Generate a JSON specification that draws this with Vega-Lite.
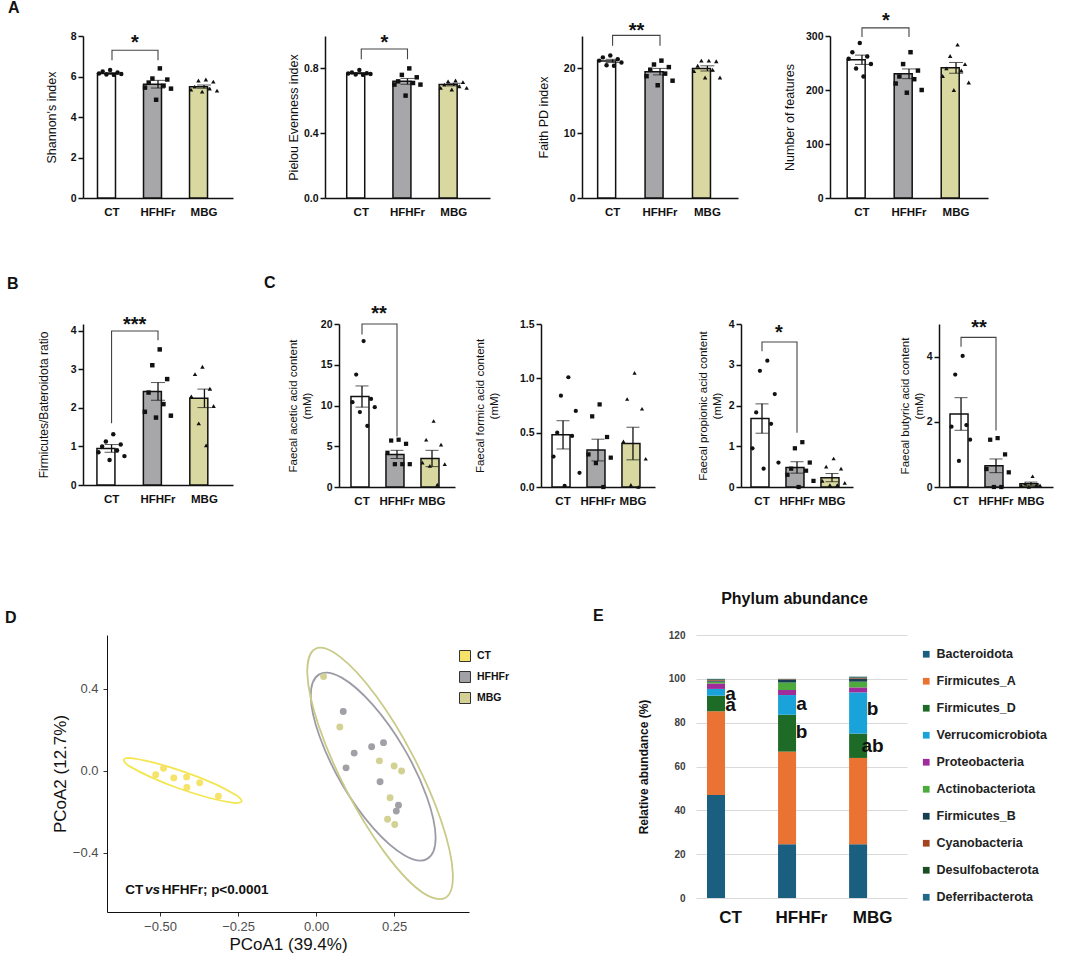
{
"$schema": "https://vega.github.io/schema/vega-lite/v6.json",
"padding": {"left":5,"top":0,"right":5,"bottom":4},
"config": {
 "view": {"stroke": null},
 "font": "Liberation Sans",
 "axis": {"domainColor":"#111","domainWidth":1.5,"tickColor":"#111","tickWidth":1.5,"tickSize":5,"labelFontWeight":"bold","labelFontSize":10.5,"labelColor":"#111","titleFontWeight":"normal","titleFontSize":12.5,"titleColor":"#111","titlePadding":8,"grid":false,"labelOverlap":false},
 "axisX": {"ticks":false,"labelFontSize":11.5,"labelPadding":8,"labelAngle":0},
 "title": {"fontSize":16,"fontWeight":"bold","anchor":"start","frame":"group","offset":0,"color":"#111"}
},
"datasets": {
 "bars": [
  {"p":"A1","g":"CT","m":6.15,"e":0.04},{"p":"A1","g":"HFHFr","m":5.62,"e":0.19},{"p":"A1","g":"MBG","m":5.5,"e":0.08},
  {"p":"A2","g":"CT","m":0.77,"e":0.004},{"p":"A2","g":"HFHFr","m":0.72,"e":0.018},{"p":"A2","g":"MBG","m":0.70,"e":0.008},
  {"p":"A3","g":"CT","m":21.15,"e":0.25},{"p":"A3","g":"HFHFr","m":19.5,"e":0.5},{"p":"A3","g":"MBG","m":20.0,"e":0.4},
  {"p":"A4","g":"CT","m":256,"e":8.6},{"p":"A4","g":"HFHFr","m":230,"e":9},{"p":"A4","g":"MBG","m":241,"e":10},
  {"p":"B","g":"CT","m":0.95,"e":0.1},{"p":"B","g":"HFHFr","m":2.43,"e":0.23},{"p":"B","g":"MBG","m":2.25,"e":0.24},
  {"p":"C1","g":"CT","m":11.1,"e":1.3},{"p":"C1","g":"HFHFr","m":4.0,"e":0.5},{"p":"C1","g":"MBG","m":3.5,"e":1.0},
  {"p":"C2","g":"CT","m":0.48,"e":0.13},{"p":"C2","g":"HFHFr","m":0.34,"e":0.1},{"p":"C2","g":"MBG","m":0.40,"e":0.15},
  {"p":"C3","g":"CT","m":1.68,"e":0.36},{"p":"C3","g":"HFHFr","m":0.48,"e":0.14},{"p":"C3","g":"MBG","m":0.23,"e":0.1},
  {"p":"C4","g":"CT","m":2.24,"e":0.5},{"p":"C4","g":"HFHFr","m":0.65,"e":0.21},{"p":"C4","g":"MBG","m":0.1,"e":0.05}
 ],
 "pts": [
  {"p":"A1","g":"CT","r":4,"v":6.32},{"p":"A1","g":"CT","r":2,"v":6.25},{"p":"A1","g":"CT","r":6,"v":6.2},{"p":"A1","g":"CT","r":1,"v":6.15},{"p":"A1","g":"CT","r":7,"v":6.12},{"p":"A1","g":"CT","r":3,"v":6.1},{"p":"A1","g":"CT","r":5,"v":6.08},
  {"p":"A1","g":"HFHFr","r":5,"v":6.4},{"p":"A1","g":"HFHFr","r":3,"v":5.9},{"p":"A1","g":"HFHFr","r":7,"v":5.85},{"p":"A1","g":"HFHFr","r":2,"v":5.7},{"p":"A1","g":"HFHFr","r":6,"v":5.55},{"p":"A1","g":"HFHFr","r":1,"v":5.45},{"p":"A1","g":"HFHFr","r":8,"v":5.4},{"p":"A1","g":"HFHFr","r":4,"v":4.85},
  {"p":"A1","g":"MBG","r":5,"v":5.85},{"p":"A1","g":"MBG","r":3,"v":5.8},{"p":"A1","g":"MBG","r":7,"v":5.75},{"p":"A1","g":"MBG","r":2,"v":5.5},{"p":"A1","g":"MBG","r":6,"v":5.4},{"p":"A1","g":"MBG","r":1,"v":5.35},{"p":"A1","g":"MBG","r":8,"v":5.3},{"p":"A1","g":"MBG","r":4,"v":5.25},
  {"p":"A2","g":"CT","r":4,"v":0.79},{"p":"A2","g":"CT","r":2,"v":0.775},{"p":"A2","g":"CT","r":6,"v":0.77},{"p":"A2","g":"CT","r":1,"v":0.768},{"p":"A2","g":"CT","r":7,"v":0.765},{"p":"A2","g":"CT","r":3,"v":0.762},{"p":"A2","g":"CT","r":5,"v":0.76},
  {"p":"A2","g":"HFHFr","r":5,"v":0.8},{"p":"A2","g":"HFHFr","r":3,"v":0.76},{"p":"A2","g":"HFHFr","r":7,"v":0.745},{"p":"A2","g":"HFHFr","r":2,"v":0.72},{"p":"A2","g":"HFHFr","r":6,"v":0.71},{"p":"A2","g":"HFHFr","r":1,"v":0.70},{"p":"A2","g":"HFHFr","r":8,"v":0.70},{"p":"A2","g":"HFHFr","r":4,"v":0.632},
  {"p":"A2","g":"MBG","r":5,"v":0.725},{"p":"A2","g":"MBG","r":3,"v":0.72},{"p":"A2","g":"MBG","r":7,"v":0.715},{"p":"A2","g":"MBG","r":2,"v":0.70},{"p":"A2","g":"MBG","r":6,"v":0.69},{"p":"A2","g":"MBG","r":1,"v":0.68},{"p":"A2","g":"MBG","r":8,"v":0.68},{"p":"A2","g":"MBG","r":4,"v":0.67},
  {"p":"A3","g":"CT","r":4,"v":22.0},{"p":"A3","g":"CT","r":2,"v":21.7},{"p":"A3","g":"CT","r":6,"v":21.4},{"p":"A3","g":"CT","r":1,"v":21.2},{"p":"A3","g":"CT","r":7,"v":20.9},{"p":"A3","g":"CT","r":3,"v":20.5},{"p":"A3","g":"CT","r":5,"v":20.4},
  {"p":"A3","g":"HFHFr","r":5,"v":21.2},{"p":"A3","g":"HFHFr","r":3,"v":20.6},{"p":"A3","g":"HFHFr","r":7,"v":20.2},{"p":"A3","g":"HFHFr","r":2,"v":19.8},{"p":"A3","g":"HFHFr","r":6,"v":19.2},{"p":"A3","g":"HFHFr","r":1,"v":18.8},{"p":"A3","g":"HFHFr","r":8,"v":18.1},{"p":"A3","g":"HFHFr","r":4,"v":17.4},
  {"p":"A3","g":"MBG","r":5,"v":21.2},{"p":"A3","g":"MBG","r":3,"v":21.2},{"p":"A3","g":"MBG","r":7,"v":21.1},{"p":"A3","g":"MBG","r":2,"v":20.4},{"p":"A3","g":"MBG","r":6,"v":19.8},{"p":"A3","g":"MBG","r":1,"v":19.6},{"p":"A3","g":"MBG","r":8,"v":18.6},{"p":"A3","g":"MBG","r":4,"v":18.6},
  {"p":"A4","g":"CT","r":4,"v":287},{"p":"A4","g":"CT","r":2,"v":270},{"p":"A4","g":"CT","r":6,"v":262},{"p":"A4","g":"CT","r":1,"v":258},{"p":"A4","g":"CT","r":7,"v":248},{"p":"A4","g":"CT","r":3,"v":240},{"p":"A4","g":"CT","r":5,"v":225},
  {"p":"A4","g":"HFHFr","r":5,"v":270},{"p":"A4","g":"HFHFr","r":3,"v":248},{"p":"A4","g":"HFHFr","r":7,"v":236},{"p":"A4","g":"HFHFr","r":2,"v":225},{"p":"A4","g":"HFHFr","r":6,"v":220},{"p":"A4","g":"HFHFr","r":1,"v":212},{"p":"A4","g":"HFHFr","r":8,"v":200},{"p":"A4","g":"HFHFr","r":4,"v":195},
  {"p":"A4","g":"MBG","r":5,"v":284},{"p":"A4","g":"MBG","r":3,"v":263},{"p":"A4","g":"MBG","r":7,"v":248},{"p":"A4","g":"MBG","r":2,"v":240},{"p":"A4","g":"MBG","r":6,"v":236},{"p":"A4","g":"MBG","r":1,"v":226},{"p":"A4","g":"MBG","r":8,"v":214},{"p":"A4","g":"MBG","r":4,"v":200},
  {"p":"B","g":"CT","r":5,"v":1.32},{"p":"B","g":"CT","r":3,"v":1.13},{"p":"B","g":"CT","r":7,"v":1.05},{"p":"B","g":"CT","r":2,"v":1.0},{"p":"B","g":"CT","r":6,"v":0.9},{"p":"B","g":"CT","r":1,"v":0.85},{"p":"B","g":"CT","r":8,"v":0.75},{"p":"B","g":"CT","r":4,"v":0.65},
  {"p":"B","g":"HFHFr","r":5,"v":3.52},{"p":"B","g":"HFHFr","r":3,"v":3.11},{"p":"B","g":"HFHFr","r":7,"v":2.75},{"p":"B","g":"HFHFr","r":2,"v":2.4},{"p":"B","g":"HFHFr","r":6,"v":2.1},{"p":"B","g":"HFHFr","r":1,"v":1.9},{"p":"B","g":"HFHFr","r":8,"v":1.8},{"p":"B","g":"HFHFr","r":4,"v":1.75},
  {"p":"B","g":"MBG","r":4,"v":3.07},{"p":"B","g":"MBG","r":2,"v":2.88},{"p":"B","g":"MBG","r":6,"v":2.5},{"p":"B","g":"MBG","r":1,"v":2.3},{"p":"B","g":"MBG","r":7,"v":2.05},{"p":"B","g":"MBG","r":3,"v":1.6},{"p":"B","g":"MBG","r":5,"v":1.03},
  {"p":"C1","g":"CT","r":4,"v":17.9},{"p":"C1","g":"CT","r":2,"v":13.8},{"p":"C1","g":"CT","r":6,"v":10.8},{"p":"C1","g":"CT","r":1,"v":10.4},{"p":"C1","g":"CT","r":7,"v":9.8},{"p":"C1","g":"CT","r":3,"v":9.2},{"p":"C1","g":"CT","r":5,"v":7.5},
  {"p":"C1","g":"HFHFr","r":4,"v":5.8},{"p":"C1","g":"HFHFr","r":2,"v":5.7},{"p":"C1","g":"HFHFr","r":6,"v":5.3},{"p":"C1","g":"HFHFr","r":1,"v":4.2},{"p":"C1","g":"HFHFr","r":7,"v":2.8},{"p":"C1","g":"HFHFr","r":3,"v":2.8},{"p":"C1","g":"HFHFr","r":5,"v":2.8},
  {"p":"C1","g":"MBG","r":4,"v":8.1},{"p":"C1","g":"MBG","r":2,"v":5.8},{"p":"C1","g":"MBG","r":6,"v":5.2},{"p":"C1","g":"MBG","r":1,"v":3.0},{"p":"C1","g":"MBG","r":7,"v":2.8},{"p":"C1","g":"MBG","r":3,"v":2.6},{"p":"C1","g":"MBG","r":5,"v":0.3},
  {"p":"C2","g":"CT","r":5,"v":1.01},{"p":"C2","g":"CT","r":3,"v":0.84},{"p":"C2","g":"CT","r":7,"v":0.7},{"p":"C2","g":"CT","r":2,"v":0.5},{"p":"C2","g":"CT","r":6,"v":0.47},{"p":"C2","g":"CT","r":1,"v":0.28},{"p":"C2","g":"CT","r":8,"v":0.13},{"p":"C2","g":"CT","r":4,"v":0.01},
  {"p":"C2","g":"HFHFr","r":4,"v":0.76},{"p":"C2","g":"HFHFr","r":2,"v":0.65},{"p":"C2","g":"HFHFr","r":6,"v":0.46},{"p":"C2","g":"HFHFr","r":1,"v":0.3},{"p":"C2","g":"HFHFr","r":7,"v":0.27},{"p":"C2","g":"HFHFr","r":3,"v":0.22},{"p":"C2","g":"HFHFr","r":5,"v":0.0},
  {"p":"C2","g":"MBG","r":4,"v":1.05},{"p":"C2","g":"MBG","r":2,"v":0.81},{"p":"C2","g":"MBG","r":6,"v":0.72},{"p":"C2","g":"MBG","r":1,"v":0.42},{"p":"C2","g":"MBG","r":7,"v":0.26},{"p":"C2","g":"MBG","r":3,"v":0.02},{"p":"C2","g":"MBG","r":5,"v":0.0},
  {"p":"C3","g":"CT","r":5,"v":3.1},{"p":"C3","g":"CT","r":3,"v":2.85},{"p":"C3","g":"CT","r":7,"v":2.28},{"p":"C3","g":"CT","r":2,"v":1.83},{"p":"C3","g":"CT","r":6,"v":1.55},{"p":"C3","g":"CT","r":1,"v":0.95},{"p":"C3","g":"CT","r":8,"v":0.6},{"p":"C3","g":"CT","r":4,"v":0.45},
  {"p":"C3","g":"HFHFr","r":5,"v":1.1},{"p":"C3","g":"HFHFr","r":3,"v":0.95},{"p":"C3","g":"HFHFr","r":7,"v":0.6},{"p":"C3","g":"HFHFr","r":2,"v":0.45},{"p":"C3","g":"HFHFr","r":6,"v":0.4},{"p":"C3","g":"HFHFr","r":1,"v":0.3},{"p":"C3","g":"HFHFr","r":8,"v":0.15},{"p":"C3","g":"HFHFr","r":4,"v":0.0},
  {"p":"C3","g":"MBG","r":4,"v":0.7},{"p":"C3","g":"MBG","r":2,"v":0.5},{"p":"C3","g":"MBG","r":6,"v":0.45},{"p":"C3","g":"MBG","r":1,"v":0.15},{"p":"C3","g":"MBG","r":7,"v":0.1},{"p":"C3","g":"MBG","r":3,"v":0.05},{"p":"C3","g":"MBG","r":5,"v":0.05},
  {"p":"C4","g":"CT","r":4,"v":4.02},{"p":"C4","g":"CT","r":2,"v":3.45},{"p":"C4","g":"CT","r":5,"v":1.9},{"p":"C4","g":"CT","r":1,"v":1.85},{"p":"C4","g":"CT","r":6,"v":1.45},{"p":"C4","g":"CT","r":3,"v":0.8},
  {"p":"C4","g":"HFHFr","r":4,"v":1.5},{"p":"C4","g":"HFHFr","r":2,"v":1.45},{"p":"C4","g":"HFHFr","r":6,"v":1.0},{"p":"C4","g":"HFHFr","r":1,"v":0.55},{"p":"C4","g":"HFHFr","r":7,"v":0.45},{"p":"C4","g":"HFHFr","r":3,"v":0.0},{"p":"C4","g":"HFHFr","r":5,"v":0.0},
  {"p":"C4","g":"MBG","r":4,"v":0.33},{"p":"C4","g":"MBG","r":2,"v":0.1},{"p":"C4","g":"MBG","r":5,"v":0.05},{"p":"C4","g":"MBG","r":1,"v":0.05},{"p":"C4","g":"MBG","r":6,"v":0.05},{"p":"C4","g":"MBG","r":3,"v":0.0}
 ],
 "brk": [
  {"p":"A1","g":"CT","y":6.8,"i":1},{"p":"A1","g":"CT","y":7.3,"i":2},{"p":"A1","g":"HFHFr","y":7.3,"i":3},{"p":"A1","g":"HFHFr","y":6.8,"i":4},
  {"p":"A2","g":"CT","y":0.857,"i":1},{"p":"A2","g":"CT","y":0.92,"i":2},{"p":"A2","g":"HFHFr","y":0.92,"i":3},{"p":"A2","g":"HFHFr","y":0.857,"i":4},
  {"p":"A3","g":"CT","y":23.5,"i":1},{"p":"A3","g":"CT","y":25.1,"i":2},{"p":"A3","g":"HFHFr","y":25.1,"i":3},{"p":"A3","g":"HFHFr","y":23.5,"i":4},
  {"p":"A4","g":"CT","y":298,"i":1},{"p":"A4","g":"CT","y":315,"i":2},{"p":"A4","g":"HFHFr","y":315,"i":3},{"p":"A4","g":"HFHFr","y":298,"i":4},
  {"p":"B","g":"CT","y":1.6,"i":1},{"p":"B","g":"CT","y":4.0,"i":2},{"p":"B","g":"HFHFr","y":4.0,"i":3},{"p":"B","g":"HFHFr","y":3.76,"i":4},
  {"p":"C1","g":"CT","y":18.7,"i":1},{"p":"C1","g":"CT","y":20,"i":2},{"p":"C1","g":"HFHFr","y":20,"i":3},{"p":"C1","g":"HFHFr","y":6.2,"i":4},
  {"p":"C3","g":"CT","y":3.33,"i":1},{"p":"C3","g":"CT","y":3.56,"i":2},{"p":"C3","g":"HFHFr","y":3.56,"i":3},{"p":"C3","g":"HFHFr","y":1.33,"i":4},
  {"p":"C4","g":"CT","y":4.3,"i":1},{"p":"C4","g":"CT","y":4.59,"i":2},{"p":"C4","g":"HFHFr","y":4.59,"i":3},{"p":"C4","g":"HFHFr","y":1.73,"i":4}
 ],
 "st": [
  {"p":"A1","g":"CT","y":7.65,"s":"*"},{"p":"A2","g":"CT","y":0.957,"s":"*"},{"p":"A3","g":"CT","y":25.8,"s":"**"},{"p":"A4","g":"CT","y":327.7,"s":"*"},
  {"p":"B","g":"CT","y":4.16,"s":"***"},{"p":"C1","g":"CT","y":21.2,"s":"**"},{"p":"C3","g":"CT","y":3.78,"s":"*"},{"p":"C4","g":"CT","y":4.87,"s":"**"}
 ],
 "pcoa": [
  {"g":"CT","x":-0.514,"y":-0.018},{"g":"CT","x":-0.489,"y":0.013},{"g":"CT","x":-0.456,"y":-0.034},{"g":"CT","x":-0.415,"y":-0.029},{"g":"CT","x":-0.414,"y":-0.081},{"g":"CT","x":-0.373,"y":-0.058},{"g":"CT","x":-0.313,"y":-0.123},
  {"g":"HFHFr","x":0.087,"y":0.29},{"g":"HFHFr","x":0.122,"y":0.087},{"g":"HFHFr","x":0.096,"y":0.015},{"g":"HFHFr","x":0.178,"y":0.118},{"g":"HFHFr","x":0.216,"y":0.138},{"g":"HFHFr","x":0.205,"y":-0.053},{"g":"HFHFr","x":0.264,"y":-0.167},{"g":"HFHFr","x":0.257,"y":-0.196},
  {"g":"MBG","x":0.024,"y":0.46},{"g":"MBG","x":0.076,"y":0.214},{"g":"MBG","x":0.203,"y":0.049},{"g":"MBG","x":0.25,"y":0.024},{"g":"MBG","x":0.274,"y":0.0},{"g":"MBG","x":0.237,"y":-0.131},{"g":"MBG","x":0.229,"y":-0.236},{"g":"MBG","x":0.252,"y":-0.261}
 ],
 "ell": [
  {"g":"CT","i":1,"x":-0.239,"y":-0.149},{"g":"CT","i":2,"x":-0.248,"y":-0.155},{"g":"CT","i":3,"x":-0.269,"y":-0.155},{"g":"CT","i":4,"x":-0.341,"y":-0.132},{"g":"CT","i":5,"x":-0.437,"y":-0.087},{"g":"CT","i":6,"x":-0.530,"y":-0.030},{"g":"CT","i":7,"x":-0.596,"y":0.021},{"g":"CT","i":8,"x":-0.612,"y":0.041},{"g":"CT","i":9,"x":-0.616,"y":0.055},{"g":"CT","i":10,"x":-0.607,"y":0.062},{"g":"CT","i":11,"x":-0.586,"y":0.061},{"g":"CT","i":12,"x":-0.514,"y":0.038},{"g":"CT","i":13,"x":-0.418,"y":-0.007},{"g":"CT","i":14,"x":-0.325,"y":-0.063},{"g":"CT","i":15,"x":-0.260,"y":-0.115},{"g":"CT","i":16,"x":-0.243,"y":-0.135},
  {"g":"HFHFr","i":1,"x":0.356,"y":-0.429},{"g":"HFHFr","i":2,"x":0.284,"y":-0.412},{"g":"HFHFr","i":3,"x":0.184,"y":-0.280},{"g":"HFHFr","i":4,"x":0.084,"y":-0.067},{"g":"HFHFr","i":5,"x":0.011,"y":0.169},{"g":"HFHFr","i":6,"x":-0.017,"y":0.366},{"g":"HFHFr","i":7,"x":0.010,"y":0.471},{"g":"HFHFr","i":8,"x":0.082,"y":0.455},{"g":"HFHFr","i":9,"x":0.182,"y":0.322},{"g":"HFHFr","i":10,"x":0.282,"y":0.109},{"g":"HFHFr","i":11,"x":0.355,"y":-0.127},{"g":"HFHFr","i":12,"x":0.383,"y":-0.324},
  {"g":"MBG","i":1,"x":0.413,"y":-0.620},{"g":"MBG","i":2,"x":0.331,"y":-0.582},{"g":"MBG","i":3,"x":0.216,"y":-0.390},{"g":"MBG","i":4,"x":0.098,"y":-0.097},{"g":"MBG","i":5,"x":0.009,"y":0.217},{"g":"MBG","i":6,"x":-0.028,"y":0.470},{"g":"MBG","i":7,"x":-0.003,"y":0.595},{"g":"MBG","i":8,"x":0.078,"y":0.555},{"g":"MBG","i":9,"x":0.193,"y":0.364},{"g":"MBG","i":10,"x":0.311,"y":0.072},{"g":"MBG","i":11,"x":0.401,"y":-0.244},{"g":"MBG","i":12,"x":0.438,"y":-0.497}
 ],
 "ann": [
  {"x":-0.612,"y":-0.58,"t":"CT","it":0},{"x":-0.548,"y":-0.58,"t":"vs","it":1},{"x":-0.495,"y":-0.58,"t":"HFHFr; p<0.0001","it":0}
 ],
 "phy": [
  {"g":"CT","k":"Bacteroidota","o":1,"v":47.0},{"g":"CT","k":"Firmicutes_A","o":2,"v":38.2},{"g":"CT","k":"Firmicutes_D","o":3,"v":7.1},{"g":"CT","k":"Verrucomicrobiota","o":4,"v":3.1},{"g":"CT","k":"Proteobacteria","o":5,"v":2.5},{"g":"CT","k":"Actinobacteriota","o":6,"v":0.8},{"g":"CT","k":"Firmicutes_B","o":7,"v":0.5},{"g":"CT","k":"Cyanobacteria","o":8,"v":0.3},{"g":"CT","k":"Desulfobacterota","o":9,"v":0.3},{"g":"CT","k":"Deferribacterota","o":10,"v":0.2},
  {"g":"HFHFr","k":"Bacteroidota","o":1,"v":24.5},{"g":"HFHFr","k":"Firmicutes_A","o":2,"v":42.3},{"g":"HFHFr","k":"Firmicutes_D","o":3,"v":16.8},{"g":"HFHFr","k":"Verrucomicrobiota","o":4,"v":9.0},{"g":"HFHFr","k":"Proteobacteria","o":5,"v":2.3},{"g":"HFHFr","k":"Actinobacteriota","o":6,"v":3.4},{"g":"HFHFr","k":"Firmicutes_B","o":7,"v":1.3},{"g":"HFHFr","k":"Cyanobacteria","o":8,"v":0.2},{"g":"HFHFr","k":"Desulfobacterota","o":9,"v":0.1},{"g":"HFHFr","k":"Deferribacterota","o":10,"v":0.1},
  {"g":"MBG","k":"Bacteroidota","o":1,"v":24.5},{"g":"MBG","k":"Firmicutes_A","o":2,"v":39.4},{"g":"MBG","k":"Firmicutes_D","o":3,"v":11.1},{"g":"MBG","k":"Verrucomicrobiota","o":4,"v":18.8},{"g":"MBG","k":"Proteobacteria","o":5,"v":2.3},{"g":"MBG","k":"Actinobacteriota","o":6,"v":2.6},{"g":"MBG","k":"Firmicutes_B","o":7,"v":1.4},{"g":"MBG","k":"Cyanobacteria","o":8,"v":0.3},{"g":"MBG","k":"Desulfobacterota","o":9,"v":0.3},{"g":"MBG","k":"Deferribacterota","o":10,"v":0.3}
 ],
 "ltk": [
  {"g":"CT","y":93.2,"t":"a"},{"g":"CT","y":88.0,"t":"a"},{"g":"HFHFr","y":88.5,"t":"a"},{"g":"HFHFr","y":75.6,"t":"b"},{"g":"MBG","y":86.2,"t":"b"},{"g":"MBG","y":69.2,"t":"ab"}
 ],
 "ltw": [
  {"g":"CT","y":26.5,"t":"a"},{"g":"HFHFr","y":14.3,"t":"b"},{"g":"MBG","y":13.2,"t":"b"}
 ]
},
"spacing": 57,
"vconcat": [
 {"hconcat": [
  {"width":150,"height":162,"title":{"text":"A","dx":-75,"dy":-11},
   "layer":[
    {"data":{"name":"bars"},"transform":[{"filter":"datum.p=='A1'"}],"mark":{"type":"bar","stroke":"#111","strokeWidth":1.5},"encoding":{"x":{"field":"g","type":"nominal","sort":["CT","HFHFr","MBG"],"scale":{"paddingInner":0.37,"paddingOuter":0.315},"title":null},"y":{"field":"m","type":"quantitative","scale":{"domain":[0,8],"nice":false},"axis":{"values":[0,2,4,6,8],"titlePadding":12},"title":"Shannon's index"},"fill":{"field":"g","type":"nominal","scale":{"domain":["CT","HFHFr","MBG"],"range":["#FFFFFF","#A7A7AA","#D8D8A0"]},"legend":null}}},
    {"data":{"name":"bars"},"transform":[{"filter":"datum.p=='A1'"}],"mark":{"type":"errorbar","ticks":{"size":14,"color":"#111","strokeWidth":1.3},"rule":{"color":"#111","strokeWidth":1.3}},"encoding":{"x":{"field":"g","type":"nominal","sort":["CT","HFHFr","MBG"],"title":null},"y":{"field":"m","type":"quantitative","title":"Shannon's index"},"yError":{"field":"e"}}},
    {"data":{"name":"pts"},"transform":[{"filter":"datum.p=='A1'"}],"mark":{"type":"point","filled":true,"color":"#111","size":20,"opacity":1},"encoding":{"x":{"field":"g","type":"nominal","sort":["CT","HFHFr","MBG"],"title":null},"xOffset":{"field":"r","type":"nominal","scale":{"paddingOuter":0.4}},"y":{"field":"v","type":"quantitative","title":"Shannon's index"},"shape":{"field":"g","type":"nominal","scale":{"domain":["CT","HFHFr","MBG"],"range":["circle","square","triangle-up"]},"legend":null}}},
    {"data":{"name":"brk"},"transform":[{"filter":"datum.p=='A1'"}],"mark":{"type":"line","color":"#444","strokeWidth":1.1},"encoding":{"x":{"field":"g","type":"nominal","sort":["CT","HFHFr","MBG"],"title":null},"y":{"field":"y","type":"quantitative","title":"Shannon's index"},"order":{"field":"i"}}},
    {"data":{"name":"st"},"transform":[{"filter":"datum.p=='A1'"}],"mark":{"type":"text","fontSize":20,"fontWeight":"bold","dx":23,"baseline":"middle","color":"#111"},"encoding":{"x":{"field":"g","type":"nominal","sort":["CT","HFHFr","MBG"],"title":null},"y":{"field":"y","type":"quantitative","title":"Shannon's index"},"text":{"field":"s"}}}
   ]},
  {"width":165,"height":162,
   "layer":[
    {"data":{"name":"bars"},"transform":[{"filter":"datum.p=='A2'"}],"mark":{"type":"bar","stroke":"#111","strokeWidth":1.5},"encoding":{"x":{"field":"g","type":"nominal","sort":["CT","HFHFr","MBG"],"scale":{"paddingInner":0.37,"paddingOuter":0.47},"title":null},"y":{"field":"m","type":"quantitative","scale":{"domain":[0,1],"nice":false},"axis":{"values":[0,0.2,0.4,0.6,0.8,1.0],"format":".1f","titlePadding":3},"title":"Pielou Evenness index"},"fill":{"field":"g","type":"nominal","scale":{"domain":["CT","HFHFr","MBG"],"range":["#FFFFFF","#A7A7AA","#D8D8A0"]},"legend":null}}},
    {"data":{"name":"bars"},"transform":[{"filter":"datum.p=='A2'"}],"mark":{"type":"errorbar","ticks":{"size":14,"color":"#111","strokeWidth":1.3},"rule":{"color":"#111","strokeWidth":1.3}},"encoding":{"x":{"field":"g","type":"nominal","sort":["CT","HFHFr","MBG"],"title":null},"y":{"field":"m","type":"quantitative","title":"Pielou Evenness index"},"yError":{"field":"e"}}},
    {"data":{"name":"pts"},"transform":[{"filter":"datum.p=='A2'"}],"mark":{"type":"point","filled":true,"color":"#111","size":20,"opacity":1},"encoding":{"x":{"field":"g","type":"nominal","sort":["CT","HFHFr","MBG"],"title":null},"xOffset":{"field":"r","type":"nominal","scale":{"paddingOuter":0.4}},"y":{"field":"v","type":"quantitative","title":"Pielou Evenness index"},"shape":{"field":"g","type":"nominal","scale":{"domain":["CT","HFHFr","MBG"],"range":["circle","square","triangle-up"]},"legend":null}}},
    {"data":{"name":"brk"},"transform":[{"filter":"datum.p=='A2'"}],"mark":{"type":"line","color":"#444","strokeWidth":1.1},"encoding":{"x":{"field":"g","type":"nominal","sort":["CT","HFHFr","MBG"],"title":null},"y":{"field":"y","type":"quantitative","title":"Pielou Evenness index"},"order":{"field":"i"}}},
    {"data":{"name":"st"},"transform":[{"filter":"datum.p=='A2'"}],"mark":{"type":"text","fontSize":20,"fontWeight":"bold","dx":23,"baseline":"middle","color":"#111"},"encoding":{"x":{"field":"g","type":"nominal","sort":["CT","HFHFr","MBG"],"title":null},"y":{"field":"y","type":"quantitative","title":"Pielou Evenness index"},"text":{"field":"s"}}}
   ]},
  {"width":156,"height":162,
   "layer":[
    {"data":{"name":"bars"},"transform":[{"filter":"datum.p=='A3'"}],"mark":{"type":"bar","stroke":"#111","strokeWidth":1.5},"encoding":{"x":{"field":"g","type":"nominal","sort":["CT","HFHFr","MBG"],"scale":{"paddingInner":0.37,"paddingOuter":0.33},"title":null},"y":{"field":"m","type":"quantitative","scale":{"domain":[0,25],"nice":false},"axis":{"values":[0,5,10,15,20,25],"titlePadding":13},"title":"Faith PD index"},"fill":{"field":"g","type":"nominal","scale":{"domain":["CT","HFHFr","MBG"],"range":["#FFFFFF","#A7A7AA","#D8D8A0"]},"legend":null}}},
    {"data":{"name":"bars"},"transform":[{"filter":"datum.p=='A3'"}],"mark":{"type":"errorbar","ticks":{"size":14,"color":"#111","strokeWidth":1.3},"rule":{"color":"#111","strokeWidth":1.3}},"encoding":{"x":{"field":"g","type":"nominal","sort":["CT","HFHFr","MBG"],"title":null},"y":{"field":"m","type":"quantitative","title":"Faith PD index"},"yError":{"field":"e"}}},
    {"data":{"name":"pts"},"transform":[{"filter":"datum.p=='A3'"}],"mark":{"type":"point","filled":true,"color":"#111","size":20,"opacity":1},"encoding":{"x":{"field":"g","type":"nominal","sort":["CT","HFHFr","MBG"],"title":null},"xOffset":{"field":"r","type":"nominal","scale":{"paddingOuter":0.4}},"y":{"field":"v","type":"quantitative","title":"Faith PD index"},"shape":{"field":"g","type":"nominal","scale":{"domain":["CT","HFHFr","MBG"],"range":["circle","square","triangle-up"]},"legend":null}}},
    {"data":{"name":"brk"},"transform":[{"filter":"datum.p=='A3'"}],"mark":{"type":"line","color":"#444","strokeWidth":1.1},"encoding":{"x":{"field":"g","type":"nominal","sort":["CT","HFHFr","MBG"],"title":null},"y":{"field":"y","type":"quantitative","title":"Faith PD index"},"order":{"field":"i"}}},
    {"data":{"name":"st"},"transform":[{"filter":"datum.p=='A3'"}],"mark":{"type":"text","fontSize":20,"fontWeight":"bold","dx":24,"baseline":"middle","color":"#111"},"encoding":{"x":{"field":"g","type":"nominal","sort":["CT","HFHFr","MBG"],"title":null},"y":{"field":"y","type":"quantitative","title":"Faith PD index"},"text":{"field":"s"}}}
   ]},
  {"width":158,"height":162,
   "layer":[
    {"data":{"name":"bars"},"transform":[{"filter":"datum.p=='A4'"}],"mark":{"type":"bar","stroke":"#111","strokeWidth":1.5},"encoding":{"x":{"field":"g","type":"nominal","sort":["CT","HFHFr","MBG"],"scale":{"paddingInner":0.37,"paddingOuter":0.365},"title":null},"y":{"field":"m","type":"quantitative","scale":{"domain":[0,300],"nice":false},"axis":{"values":[0,100,200,300],"titlePadding":9},"title":"Number of features"},"fill":{"field":"g","type":"nominal","scale":{"domain":["CT","HFHFr","MBG"],"range":["#FFFFFF","#A7A7AA","#D8D8A0"]},"legend":null}}},
    {"data":{"name":"bars"},"transform":[{"filter":"datum.p=='A4'"}],"mark":{"type":"errorbar","ticks":{"size":14,"color":"#111","strokeWidth":1.3},"rule":{"color":"#111","strokeWidth":1.3}},"encoding":{"x":{"field":"g","type":"nominal","sort":["CT","HFHFr","MBG"],"title":null},"y":{"field":"m","type":"quantitative","title":"Number of features"},"yError":{"field":"e"}}},
    {"data":{"name":"pts"},"transform":[{"filter":"datum.p=='A4'"}],"mark":{"type":"point","filled":true,"color":"#111","size":20,"opacity":1},"encoding":{"x":{"field":"g","type":"nominal","sort":["CT","HFHFr","MBG"],"title":null},"xOffset":{"field":"r","type":"nominal","scale":{"paddingOuter":0.4}},"y":{"field":"v","type":"quantitative","title":"Number of features"},"shape":{"field":"g","type":"nominal","scale":{"domain":["CT","HFHFr","MBG"],"range":["circle","square","triangle-up"]},"legend":null}}},
    {"data":{"name":"brk"},"transform":[{"filter":"datum.p=='A4'"}],"mark":{"type":"line","color":"#444","strokeWidth":1.1},"encoding":{"x":{"field":"g","type":"nominal","sort":["CT","HFHFr","MBG"],"title":null},"y":{"field":"y","type":"quantitative","title":"Number of features"},"order":{"field":"i"}}},
    {"data":{"name":"st"},"transform":[{"filter":"datum.p=='A4'"}],"mark":{"type":"text","fontSize":20,"fontWeight":"bold","dx":24,"baseline":"middle","color":"#111"},"encoding":{"x":{"field":"g","type":"nominal","sort":["CT","HFHFr","MBG"],"title":null},"y":{"field":"y","type":"quantitative","title":"Number of features"},"text":{"field":"s"}}}
   ]}
 ], "spacing": 92, "bounds": "flush"},
 {"spacing": 84, "vconcat": [
  {"hconcat": [
   {"width":150,"height":161,"title":{"text":"B","dx":-76,"dy":-19},
    "layer":[
     {"data":{"name":"bars"},"transform":[{"filter":"datum.p=='B'"}],"mark":{"type":"bar","stroke":"#111","strokeWidth":1.5},"encoding":{"x":{"field":"g","type":"nominal","sort":["CT","HFHFr","MBG"],"scale":{"paddingInner":0.37,"paddingOuter":0.3},"title":null},"y":{"field":"m","type":"quantitative","scale":{"domain":[0,4.18],"nice":false},"axis":{"values":[0,1,2,3,4],"titleFontSize":12,"titlePadding":20},"title":"Firmicutes/Bateroidota ratio"},"fill":{"field":"g","type":"nominal","scale":{"domain":["CT","HFHFr","MBG"],"range":["#FFFFFF","#A7A7AA","#D8D8A0"]},"legend":null}}},
     {"data":{"name":"bars"},"transform":[{"filter":"datum.p=='B'"}],"mark":{"type":"errorbar","ticks":{"size":14,"color":"#111","strokeWidth":1.3},"rule":{"color":"#111","strokeWidth":1.3}},"encoding":{"x":{"field":"g","type":"nominal","sort":["CT","HFHFr","MBG"],"title":null},"y":{"field":"m","type":"quantitative","title":"Firmicutes/Bateroidota ratio"},"yError":{"field":"e"}}},
     {"data":{"name":"pts"},"transform":[{"filter":"datum.p=='B'"}],"mark":{"type":"point","filled":true,"color":"#111","size":20,"opacity":1},"encoding":{"x":{"field":"g","type":"nominal","sort":["CT","HFHFr","MBG"],"title":null},"xOffset":{"field":"r","type":"nominal","scale":{"paddingOuter":0.4}},"y":{"field":"v","type":"quantitative","title":"Firmicutes/Bateroidota ratio"},"shape":{"field":"g","type":"nominal","scale":{"domain":["CT","HFHFr","MBG"],"range":["circle","square","triangle-up"]},"legend":null}}},
     {"data":{"name":"brk"},"transform":[{"filter":"datum.p=='B'"}],"mark":{"type":"line","color":"#444","strokeWidth":1.1},"encoding":{"x":{"field":"g","type":"nominal","sort":["CT","HFHFr","MBG"],"title":null},"y":{"field":"y","type":"quantitative","title":"Firmicutes/Bateroidota ratio"},"order":{"field":"i"}}},
     {"data":{"name":"st"},"transform":[{"filter":"datum.p=='B'"}],"mark":{"type":"text","fontSize":20,"fontWeight":"bold","dx":23,"baseline":"middle","color":"#111"},"encoding":{"x":{"field":"g","type":"nominal","sort":["CT","HFHFr","MBG"],"title":null},"y":{"field":"y","type":"quantitative","title":"Firmicutes/Bateroidota ratio"},"text":{"field":"s"}}}
    ]},
   {"hconcat": [
    {"width":116,"height":163,"title":{"text":"C","dx":-75,"dy":-9},
     "layer":[
      {"data":{"name":"bars"},"transform":[{"filter":"datum.p=='C1'"}],"mark":{"type":"bar","stroke":"#111","strokeWidth":1.5},"encoding":{"x":{"field":"g","type":"nominal","sort":["CT","HFHFr","MBG"],"scale":{"paddingInner":0.37,"paddingOuter":0.342},"title":null},"y":{"field":"m","type":"quantitative","scale":{"domain":[0,20],"nice":false},"axis":{"values":[0,5,10,15,20],"titleFontSize":11.5,"titleLineHeight":14,"titlePadding":8},"title":["Faecal acetic acid content","(mM)"]},"fill":{"field":"g","type":"nominal","scale":{"domain":["CT","HFHFr","MBG"],"range":["#FFFFFF","#A7A7AA","#D8D8A0"]},"legend":null}}},
      {"data":{"name":"bars"},"transform":[{"filter":"datum.p=='C1'"}],"mark":{"type":"errorbar","ticks":{"size":13,"color":"#111","strokeWidth":1.3},"rule":{"color":"#111","strokeWidth":1.3}},"encoding":{"x":{"field":"g","type":"nominal","sort":["CT","HFHFr","MBG"],"title":null},"y":{"field":"m","type":"quantitative","title":["Faecal acetic acid content","(mM)"]},"yError":{"field":"e"}}},
      {"data":{"name":"pts"},"transform":[{"filter":"datum.p=='C1'"}],"mark":{"type":"point","filled":true,"color":"#111","size":18,"opacity":1},"encoding":{"x":{"field":"g","type":"nominal","sort":["CT","HFHFr","MBG"],"title":null},"xOffset":{"field":"r","type":"nominal","scale":{"paddingOuter":0.4}},"y":{"field":"v","type":"quantitative","title":["Faecal acetic acid content","(mM)"]},"shape":{"field":"g","type":"nominal","scale":{"domain":["CT","HFHFr","MBG"],"range":["circle","square","triangle-up"]},"legend":null}}},
      {"data":{"name":"brk"},"transform":[{"filter":"datum.p=='C1'"}],"mark":{"type":"line","color":"#444","strokeWidth":1.1},"encoding":{"x":{"field":"g","type":"nominal","sort":["CT","HFHFr","MBG"],"title":null},"y":{"field":"y","type":"quantitative","title":["Faecal acetic acid content","(mM)"]},"order":{"field":"i"}}},
      {"data":{"name":"st"},"transform":[{"filter":"datum.p=='C1'"}],"mark":{"type":"text","fontSize":20,"fontWeight":"bold","dx":17,"baseline":"middle","color":"#111"},"encoding":{"x":{"field":"g","type":"nominal","sort":["CT","HFHFr","MBG"],"title":null},"y":{"field":"y","type":"quantitative","title":["Faecal acetic acid content","(mM)"]},"text":{"field":"s"}}}
     ]},
    {"width":114,"height":163,
     "layer":[
      {"data":{"name":"bars"},"transform":[{"filter":"datum.p=='C2'"}],"mark":{"type":"bar","stroke":"#111","strokeWidth":1.5},"encoding":{"x":{"field":"g","type":"nominal","sort":["CT","HFHFr","MBG"],"scale":{"paddingInner":0.37,"paddingOuter":0.315},"title":null},"y":{"field":"m","type":"quantitative","scale":{"domain":[0,1.5],"nice":false},"axis":{"values":[0,0.5,1.0,1.5],"format":".1f","titleFontSize":11.5,"titleLineHeight":14,"titlePadding":20},"title":["Faecal formic acid content","(mM)"]},"fill":{"field":"g","type":"nominal","scale":{"domain":["CT","HFHFr","MBG"],"range":["#FFFFFF","#A7A7AA","#D8D8A0"]},"legend":null}}},
      {"data":{"name":"bars"},"transform":[{"filter":"datum.p=='C2'"}],"mark":{"type":"errorbar","ticks":{"size":13,"color":"#111","strokeWidth":1.3},"rule":{"color":"#111","strokeWidth":1.3}},"encoding":{"x":{"field":"g","type":"nominal","sort":["CT","HFHFr","MBG"],"title":null},"y":{"field":"m","type":"quantitative","title":["Faecal formic acid content","(mM)"]},"yError":{"field":"e"}}},
      {"data":{"name":"pts"},"transform":[{"filter":"datum.p=='C2'"}],"mark":{"type":"point","filled":true,"color":"#111","size":18,"opacity":1},"encoding":{"x":{"field":"g","type":"nominal","sort":["CT","HFHFr","MBG"],"title":null},"xOffset":{"field":"r","type":"nominal","scale":{"paddingOuter":0.4}},"y":{"field":"v","type":"quantitative","title":["Faecal formic acid content","(mM)"]},"shape":{"field":"g","type":"nominal","scale":{"domain":["CT","HFHFr","MBG"],"range":["circle","square","triangle-up"]},"legend":null}}}
     ]},
    {"width":112,"height":163,
     "layer":[
      {"data":{"name":"bars"},"transform":[{"filter":"datum.p=='C3'"}],"mark":{"type":"bar","stroke":"#111","strokeWidth":1.5},"encoding":{"x":{"field":"g","type":"nominal","sort":["CT","HFHFr","MBG"],"scale":{"paddingInner":0.37,"paddingOuter":0.285},"title":null},"y":{"field":"m","type":"quantitative","scale":{"domain":[0,4],"nice":false},"axis":{"values":[0,1,2,3,4],"titleFontSize":11.5,"titleLineHeight":14,"titlePadding":6},"title":["Faecal propionic acid content","(mM)"]},"fill":{"field":"g","type":"nominal","scale":{"domain":["CT","HFHFr","MBG"],"range":["#FFFFFF","#A7A7AA","#D8D8A0"]},"legend":null}}},
      {"data":{"name":"bars"},"transform":[{"filter":"datum.p=='C3'"}],"mark":{"type":"errorbar","ticks":{"size":13,"color":"#111","strokeWidth":1.3},"rule":{"color":"#111","strokeWidth":1.3}},"encoding":{"x":{"field":"g","type":"nominal","sort":["CT","HFHFr","MBG"],"title":null},"y":{"field":"m","type":"quantitative","title":["Faecal propionic acid content","(mM)"]},"yError":{"field":"e"}}},
      {"data":{"name":"pts"},"transform":[{"filter":"datum.p=='C3'"}],"mark":{"type":"point","filled":true,"color":"#111","size":18,"opacity":1},"encoding":{"x":{"field":"g","type":"nominal","sort":["CT","HFHFr","MBG"],"title":null},"xOffset":{"field":"r","type":"nominal","scale":{"paddingOuter":0.4}},"y":{"field":"v","type":"quantitative","title":["Faecal propionic acid content","(mM)"]},"shape":{"field":"g","type":"nominal","scale":{"domain":["CT","HFHFr","MBG"],"range":["circle","square","triangle-up"]},"legend":null}}},
      {"data":{"name":"brk"},"transform":[{"filter":"datum.p=='C3'"}],"mark":{"type":"line","color":"#444","strokeWidth":1.1},"encoding":{"x":{"field":"g","type":"nominal","sort":["CT","HFHFr","MBG"],"title":null},"y":{"field":"y","type":"quantitative","title":["Faecal propionic acid content","(mM)"]},"order":{"field":"i"}}},
      {"data":{"name":"st"},"transform":[{"filter":"datum.p=='C3'"}],"mark":{"type":"text","fontSize":20,"fontWeight":"bold","dx":17,"baseline":"middle","color":"#111"},"encoding":{"x":{"field":"g","type":"nominal","sort":["CT","HFHFr","MBG"],"title":null},"y":{"field":"y","type":"quantitative","title":["Faecal propionic acid content","(mM)"]},"text":{"field":"s"}}}
     ]},
    {"width":114,"height":163,
     "layer":[
      {"data":{"name":"bars"},"transform":[{"filter":"datum.p=='C4'"}],"mark":{"type":"bar","stroke":"#111","strokeWidth":1.5},"encoding":{"x":{"field":"g","type":"nominal","sort":["CT","HFHFr","MBG"],"scale":{"paddingInner":0.37,"paddingOuter":0.315},"title":null},"y":{"field":"m","type":"quantitative","scale":{"domain":[0,5],"nice":false},"axis":{"values":[0,1,2,3,4,5],"titleFontSize":11.5,"titleLineHeight":14,"titlePadding":2},"title":["Faecal butyric acid content","(mM)"]},"fill":{"field":"g","type":"nominal","scale":{"domain":["CT","HFHFr","MBG"],"range":["#FFFFFF","#A7A7AA","#D8D8A0"]},"legend":null}}},
      {"data":{"name":"bars"},"transform":[{"filter":"datum.p=='C4'"}],"mark":{"type":"errorbar","ticks":{"size":13,"color":"#111","strokeWidth":1.3},"rule":{"color":"#111","strokeWidth":1.3}},"encoding":{"x":{"field":"g","type":"nominal","sort":["CT","HFHFr","MBG"],"title":null},"y":{"field":"m","type":"quantitative","title":["Faecal butyric acid content","(mM)"]},"yError":{"field":"e"}}},
      {"data":{"name":"pts"},"transform":[{"filter":"datum.p=='C4'"}],"mark":{"type":"point","filled":true,"color":"#111","size":18,"opacity":1},"encoding":{"x":{"field":"g","type":"nominal","sort":["CT","HFHFr","MBG"],"title":null},"xOffset":{"field":"r","type":"nominal","scale":{"paddingOuter":0.4}},"y":{"field":"v","type":"quantitative","title":["Faecal butyric acid content","(mM)"]},"shape":{"field":"g","type":"nominal","scale":{"domain":["CT","HFHFr","MBG"],"range":["circle","square","triangle-up"]},"legend":null}}},
      {"data":{"name":"brk"},"transform":[{"filter":"datum.p=='C4'"}],"mark":{"type":"line","color":"#444","strokeWidth":1.1},"encoding":{"x":{"field":"g","type":"nominal","sort":["CT","HFHFr","MBG"],"title":null},"y":{"field":"y","type":"quantitative","title":["Faecal butyric acid content","(mM)"]},"order":{"field":"i"}}},
      {"data":{"name":"st"},"transform":[{"filter":"datum.p=='C4'"}],"mark":{"type":"text","fontSize":20,"fontWeight":"bold","dx":18,"baseline":"middle","color":"#111"},"encoding":{"x":{"field":"g","type":"nominal","sort":["CT","HFHFr","MBG"],"title":null},"y":{"field":"y","type":"quantitative","title":["Faecal butyric acid content","(mM)"]},"text":{"field":"s"}}}
     ]}
   ], "spacing": 86, "bounds": "flush"}
  ], "spacing": 31},
  {"hconcat": [
   {"width":386,"height":277,"title":{"text":"D","dx":-78,"dy":-5},
    "layer":[
     {"data":{"name":"ell"},"mark":{"type":"line","interpolate":"cardinal-closed","strokeWidth":1.8},"encoding":{
       "x":{"field":"x","type":"quantitative","scale":{"domain":[-0.747,0.49],"nice":false,"zero":false},"axis":{"values":[-0.5,-0.25,0,0.25],"format":".2f","labelFontWeight":"normal","labelFontSize":13,"labelColor":"#4D4D4D","ticks":true,"tickColor":"#333","tickWidth":1,"tickSize":4,"domainWidth":1,"domainDash":[0,24,362],"labelPadding":4,"titleFontSize":17,"titlePadding":3,"titleX":205},"title":"PCoA1 (39.4%)"},
       "y":{"field":"y","type":"quantitative","scale":{"domain":[-0.688,0.663],"nice":false,"zero":false},"axis":{"values":[-0.4,0,0.4],"format":".1f","offset":-24,"labelFontWeight":"normal","labelFontSize":13,"labelColor":"#4D4D4D","tickColor":"#333","tickWidth":1,"tickSize":4,"domainWidth":1,"labelPadding":5,"titleFontSize":17,"titlePadding":3},"title":"PCoA2 (12.7%)"},
       "stroke":{"field":"g","type":"nominal","scale":{"domain":["CT","HFHFr","MBG"],"range":["#F3E651","#9C9CA6","#CACA88"]},"legend":null},
       "order":{"field":"i"}}},
     {"data":{"name":"pcoa"},"mark":{"type":"circle","size":48,"opacity":1},"encoding":{
       "x":{"field":"x","type":"quantitative","title":"PCoA1 (39.4%)"},
       "y":{"field":"y","type":"quantitative","title":"PCoA2 (12.7%)"},
       "fill":{"field":"g","type":"nominal","scale":{"domain":["CT","HFHFr","MBG"],"range":["#F5E36A","#A0A0A6","#D3D193"]},"legend":{"title":null,"orient":"none","legendX":376,"legendY":15,"padding":0,"symbolType":"square","symbolSize":121,"symbolStrokeColor":"#333","symbolStrokeWidth":1,"labelFontSize":10.5,"labelFontWeight":"bold","labelColor":"#111","labelOffset":6,"rowPadding":5}}}},
     {"data":{"name":"ann"},"transform":[{"filter":"datum.it==0"}],"mark":{"type":"text","align":"left","baseline":"middle","fontSize":13.5,"fontWeight":"bold","color":"#111"},"encoding":{"x":{"field":"x","type":"quantitative","title":"PCoA1 (39.4%)"},"y":{"field":"y","type":"quantitative","title":"PCoA2 (12.7%)"},"text":{"field":"t"}}},
     {"data":{"name":"ann"},"transform":[{"filter":"datum.it==1"}],"mark":{"type":"text","align":"left","baseline":"middle","fontSize":13.5,"fontWeight":"bold","fontStyle":"italic","color":"#111"},"encoding":{"x":{"field":"x","type":"quantitative","title":"PCoA1 (39.4%)"},"y":{"field":"y","type":"quantitative","title":"PCoA2 (12.7%)"},"text":{"field":"t"}}}
    ]},
   {"width":211,"height":263,"title":{"text":"Phylum abundance","anchor":"middle","dx":-7,"offset":23,"fontSize":16},
    "layer":[
     {"data":{"name":"phy"},"mark":{"type":"bar","opacity":1},"encoding":{
       "x":{"field":"g","type":"nominal","sort":["CT","HFHFr","MBG"],"scale":{"paddingInner":0.34,"paddingOuter":0.155},"axis":{"domain":false,"ticks":false,"labelFontSize":17,"labelPadding":11,"labelColor":"#111"},"title":null},
       "y":{"field":"v","type":"quantitative","stack":"zero","scale":{"domain":[0,120],"nice":false},"axis":{"values":[0,20,40,60,80,100,120],"grid":true,"gridColor":"#D9D9D9","gridWidth":1,"domain":false,"ticks":false,"labelFontSize":10,"labelColor":"#404040","labelPadding":11,"titleFontWeight":"bold","titleFontSize":12,"titlePadding":18},"title":"Relative abundance (%)"},
       "color":{"field":"k","type":"nominal","sort":["Bacteroidota","Firmicutes_A","Firmicutes_D","Verrucomicrobiota","Proteobacteria","Actinobacteriota","Firmicutes_B","Cyanobacteria","Desulfobacterota","Deferribacterota"],"scale":{"domain":["Bacteroidota","Firmicutes_A","Firmicutes_D","Verrucomicrobiota","Proteobacteria","Actinobacteriota","Firmicutes_B","Cyanobacteria","Desulfobacterota","Deferribacterota"],"range":["#1A5E80","#EA7232","#1E6B28","#1AA3DB","#9F2C9B","#4CAB3C","#173F50","#A3441F","#1C4E24","#22688A"]},"legend":{"title":null,"orient":"none","legendX":837,"legendY":612,"padding":0,"symbolType":"square","symbolSize":45,"labelFontSize":12.5,"labelFontWeight":"bold","labelColor":"#222","rowPadding":14,"labelOffset":4}},
       "order":{"field":"o","sort":"ascending"}}},
     {"data":{"name":"ltw"},"mark":{"type":"text","fontSize":19,"fontWeight":"bold","baseline":"middle","fill":"#FFFFFF","opacity":1,"blend":"normal"},"encoding":{"x":{"field":"g","type":"nominal","sort":["CT","HFHFr","MBG"],"title":null},"y":{"field":"y","type":"quantitative","title":"Relative abundance (%)"},"text":{"field":"t"}}},
     {"data":{"name":"ltk"},"mark":{"type":"text","fontSize":19,"fontWeight":"bold","baseline":"middle","fill":"#111111"},"encoding":{"x":{"field":"g","type":"nominal","sort":["CT","HFHFr","MBG"],"title":null},"y":{"field":"y","type":"quantitative","title":"Relative abundance (%)"},"text":{"field":"t"}}}
    ]}
  ], "spacing": 227, "bounds": "flush", "resolve": {"scale": {"fill": "independent"}, "legend": {"fill": "independent"}}, "title": {"text":"E","anchor":"start","frame":"group","dx":510,"dy":37}}
 ]}
]
}
